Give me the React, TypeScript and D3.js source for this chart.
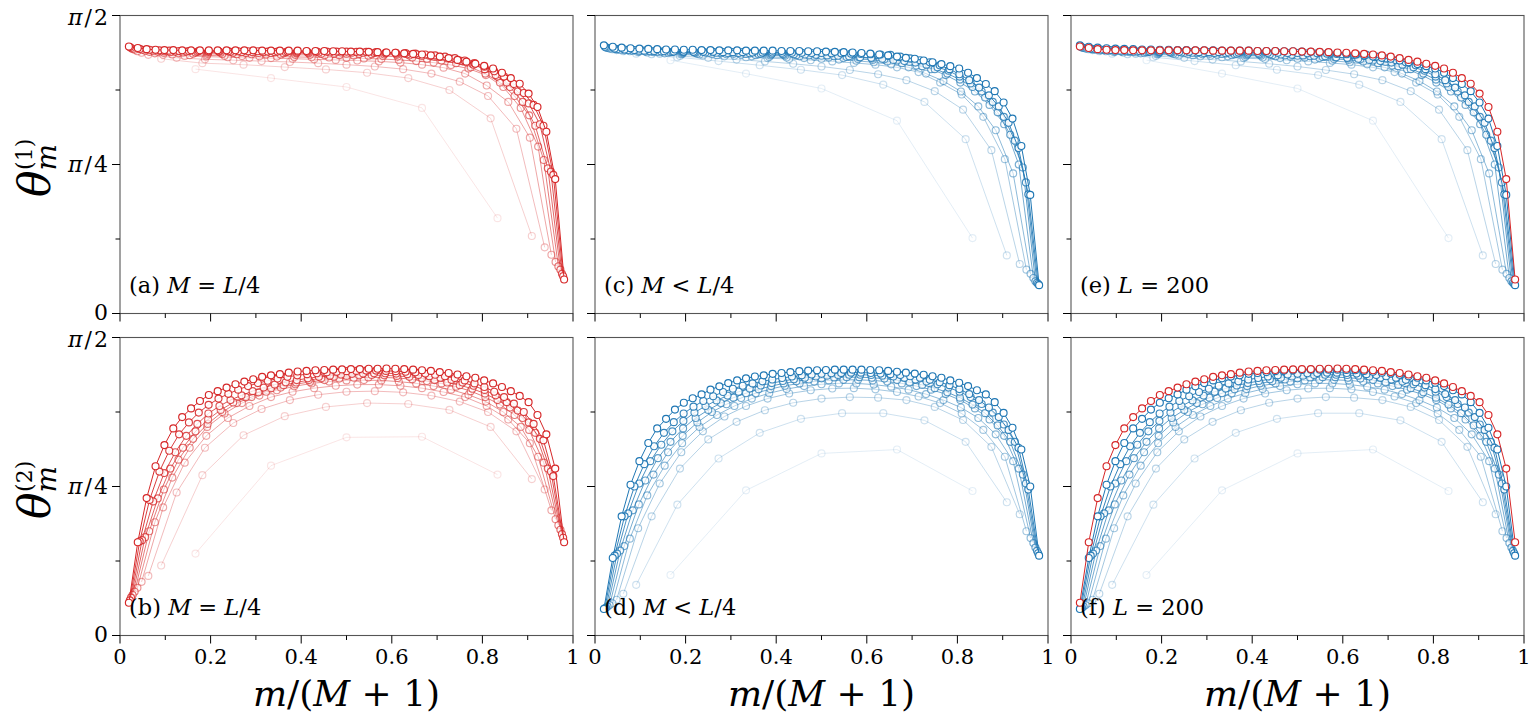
import * as d3 from "d3";

// every curve family uses M = 5, 10, ..., 50 and x = m / (M + 1), m = 1..M
const Ms = [5, 10, 15, 20, 25, 30, 35, 40, 45, 50];

// theta^(1), M = L/4   (values in units of pi/2)
const a5 = [0.82, 0.79, 0.76, 0.69, 0.32];
const a10 = [0.855, 0.84, 0.835, 0.827, 0.819, 0.808, 0.79, 0.75, 0.655, 0.26];
const a15 = [0.868, 0.858, 0.853, 0.85, 0.847, 0.844, 0.84, 0.835, 0.829, 0.82, 0.805, 0.778, 0.73, 0.62, 0.222];
const a20 = [0.875, 0.868, 0.864, 0.862, 0.86, 0.858, 0.857, 0.855, 0.853, 0.851, 0.849, 0.846, 0.842, 0.835, 0.825, 0.805, 0.765, 0.71, 0.59, 0.197];
const a25 = [0.88, 0.873, 0.869, 0.867, 0.866, 0.865, 0.864, 0.863, 0.862, 0.861, 0.86, 0.859, 0.858, 0.856, 0.854, 0.851, 0.847, 0.842, 0.834, 0.822, 0.8, 0.76, 0.69, 0.56, 0.173];
const a30 = [0.885, 0.878, 0.875, 0.873, 0.872, 0.871, 0.871, 0.87, 0.87, 0.869, 0.869, 0.868, 0.868, 0.867, 0.867, 0.866, 0.865, 0.864, 0.862, 0.859, 0.855, 0.849, 0.84, 0.826, 0.805, 0.775, 0.73, 0.665, 0.515, 0.158];
const a35 = [0.888, 0.882, 0.879, 0.877, 0.876, 0.876, 0.875, 0.875, 0.875, 0.874, 0.874, 0.874, 0.873, 0.873, 0.873, 0.872, 0.872, 0.872, 0.871, 0.87, 0.869, 0.868, 0.866, 0.864, 0.861, 0.856, 0.849, 0.838, 0.82, 0.795, 0.76, 0.71, 0.63, 0.487, 0.147];
const a40 = [0.891, 0.885, 0.882, 0.88, 0.879, 0.879, 0.878, 0.878, 0.878, 0.878, 0.877, 0.877, 0.877, 0.877, 0.877, 0.876, 0.876, 0.876, 0.876, 0.876, 0.875, 0.875, 0.874, 0.873, 0.872, 0.87, 0.868, 0.865, 0.861, 0.855, 0.847, 0.835, 0.82, 0.8, 0.775, 0.745, 0.705, 0.635, 0.476, 0.133];
const a45 = [0.894, 0.888, 0.885, 0.883, 0.882, 0.881, 0.881, 0.881, 0.88, 0.88, 0.88, 0.88, 0.88, 0.88, 0.879, 0.879, 0.879, 0.879, 0.879, 0.879, 0.879, 0.879, 0.879, 0.878, 0.878, 0.877, 0.876, 0.875, 0.874, 0.872, 0.869, 0.866, 0.862, 0.857, 0.849, 0.84, 0.828, 0.813, 0.795, 0.77, 0.74, 0.7, 0.63, 0.465, 0.125];
const a50 = [0.896, 0.891, 0.887, 0.885, 0.884, 0.884, 0.883, 0.883, 0.883, 0.883, 0.883, 0.883, 0.883, 0.883, 0.883, 0.882, 0.882, 0.882, 0.882, 0.882, 0.881, 0.881, 0.881, 0.88, 0.88, 0.879, 0.879, 0.878, 0.877, 0.876, 0.875, 0.873, 0.871, 0.869, 0.866, 0.862, 0.857, 0.851, 0.845, 0.838, 0.831, 0.822, 0.808, 0.79, 0.771, 0.738, 0.693, 0.61, 0.451, 0.114];

// theta^(2), M = L/4
const b5 = [0.275, 0.57, 0.665, 0.667, 0.54];
const b10 = [0.235, 0.538, 0.672, 0.736, 0.767, 0.78, 0.777, 0.757, 0.7, 0.525];
const b15 = [0.2, 0.48, 0.63, 0.713, 0.76, 0.79, 0.808, 0.818, 0.82, 0.816, 0.805, 0.785, 0.75, 0.685, 0.49];
const b20 = [0.18, 0.43, 0.58, 0.67, 0.73, 0.77, 0.8, 0.818, 0.83, 0.838, 0.842, 0.842, 0.838, 0.83, 0.817, 0.8, 0.77, 0.725, 0.645, 0.42];
const b25 = [0.16, 0.38, 0.53, 0.63, 0.7, 0.745, 0.78, 0.805, 0.823, 0.836, 0.846, 0.852, 0.856, 0.857, 0.856, 0.852, 0.846, 0.837, 0.825, 0.808, 0.785, 0.75, 0.7, 0.6, 0.39];
const b30 = [0.147, 0.35, 0.49, 0.59, 0.66, 0.71, 0.75, 0.78, 0.8, 0.818, 0.832, 0.843, 0.851, 0.857, 0.862, 0.865, 0.866, 0.866, 0.864, 0.86, 0.854, 0.846, 0.835, 0.82, 0.8, 0.775, 0.74, 0.69, 0.58, 0.37];
const b35 = [0.136, 0.33, 0.46, 0.56, 0.63, 0.685, 0.725, 0.757, 0.782, 0.8, 0.816, 0.83, 0.84, 0.849, 0.857, 0.863, 0.868, 0.871, 0.873, 0.874, 0.873, 0.871, 0.868, 0.863, 0.857, 0.849, 0.84, 0.828, 0.812, 0.79, 0.765, 0.73, 0.68, 0.56, 0.355];
const b40 = [0.127, 0.32, 0.45, 0.545, 0.615, 0.67, 0.71, 0.745, 0.77, 0.79, 0.806, 0.82, 0.832, 0.842, 0.85, 0.857, 0.863, 0.868, 0.872, 0.876, 0.878, 0.879, 0.88, 0.88, 0.879, 0.877, 0.874, 0.87, 0.865, 0.858, 0.849, 0.838, 0.824, 0.806, 0.783, 0.755, 0.715, 0.66, 0.55, 0.34];
const b45 = [0.118, 0.316, 0.455, 0.55, 0.62, 0.675, 0.715, 0.748, 0.774, 0.795, 0.811, 0.825, 0.837, 0.847, 0.855, 0.862, 0.868, 0.873, 0.877, 0.88, 0.883, 0.885, 0.887, 0.888, 0.889, 0.889, 0.888, 0.887, 0.885, 0.883, 0.879, 0.875, 0.87, 0.864, 0.856, 0.846, 0.834, 0.818, 0.8, 0.778, 0.75, 0.71, 0.655, 0.535, 0.328];
const b50 = [0.11, 0.313, 0.461, 0.568, 0.639, 0.695, 0.733, 0.762, 0.787, 0.807, 0.82, 0.832, 0.843, 0.852, 0.86, 0.868, 0.873, 0.877, 0.882, 0.886, 0.888, 0.89, 0.891, 0.892, 0.893, 0.894, 0.894, 0.895, 0.895, 0.896, 0.895, 0.894, 0.892, 0.89, 0.888, 0.884, 0.881, 0.876, 0.87, 0.865, 0.856, 0.846, 0.834, 0.82, 0.804, 0.783, 0.74, 0.675, 0.56, 0.313];

// theta^(1), M < L/4 (also the blue curves of L = 200)
const c5 = [0.85, 0.805, 0.755, 0.647, 0.253];
const c10 = [0.872, 0.86, 0.847, 0.833, 0.818, 0.8, 0.768, 0.71, 0.585, 0.195];
const c15 = [0.88, 0.87, 0.864, 0.858, 0.852, 0.846, 0.838, 0.829, 0.817, 0.803, 0.783, 0.746, 0.684, 0.548, 0.166];
const c20 = [0.884, 0.877, 0.872, 0.869, 0.866, 0.863, 0.86, 0.857, 0.854, 0.85, 0.846, 0.841, 0.835, 0.826, 0.81, 0.775, 0.735, 0.66, 0.518, 0.147];
const c25 = [0.887, 0.88, 0.876, 0.873, 0.871, 0.869, 0.867, 0.865, 0.863, 0.861, 0.859, 0.857, 0.855, 0.852, 0.848, 0.843, 0.836, 0.826, 0.805, 0.78, 0.745, 0.695, 0.615, 0.47, 0.133];
const c30 = [0.889, 0.883, 0.879, 0.877, 0.875, 0.873, 0.872, 0.871, 0.87, 0.868, 0.867, 0.866, 0.865, 0.863, 0.862, 0.859, 0.857, 0.854, 0.851, 0.846, 0.84, 0.832, 0.82, 0.8, 0.775, 0.745, 0.7, 0.635, 0.5, 0.119];
const c35 = [0.891, 0.885, 0.882, 0.879, 0.878, 0.877, 0.876, 0.875, 0.874, 0.873, 0.872, 0.871, 0.87, 0.869, 0.868, 0.867, 0.866, 0.865, 0.863, 0.861, 0.859, 0.856, 0.853, 0.849, 0.844, 0.83, 0.82, 0.805, 0.785, 0.76, 0.725, 0.675, 0.6, 0.49, 0.108];
const c40 = [0.893, 0.887, 0.884, 0.882, 0.88, 0.879, 0.878, 0.877, 0.876, 0.876, 0.875, 0.874, 0.874, 0.873, 0.872, 0.872, 0.871, 0.87, 0.869, 0.868, 0.866, 0.865, 0.863, 0.86, 0.858, 0.855, 0.851, 0.847, 0.842, 0.835, 0.826, 0.815, 0.795, 0.772, 0.745, 0.71, 0.66, 0.58, 0.44, 0.103];
const c45 = [0.895, 0.889, 0.886, 0.884, 0.882, 0.881, 0.88, 0.879, 0.879, 0.878, 0.878, 0.878, 0.877, 0.877, 0.877, 0.876, 0.876, 0.876, 0.875, 0.875, 0.875, 0.874, 0.874, 0.873, 0.873, 0.872, 0.871, 0.87, 0.869, 0.868, 0.862, 0.856, 0.85, 0.843, 0.833, 0.82, 0.803, 0.783, 0.758, 0.732, 0.695, 0.64, 0.555, 0.4, 0.099];
const c50 = [0.9, 0.895, 0.892, 0.89, 0.889, 0.888, 0.887, 0.886, 0.886, 0.885, 0.885, 0.884, 0.884, 0.883, 0.883, 0.883, 0.882, 0.882, 0.882, 0.882, 0.881, 0.881, 0.881, 0.88, 0.88, 0.879, 0.878, 0.877, 0.876, 0.874, 0.872, 0.869, 0.866, 0.862, 0.858, 0.855, 0.849, 0.843, 0.837, 0.83, 0.822, 0.808, 0.79, 0.77, 0.746, 0.708, 0.654, 0.562, 0.398, 0.095];

// theta^(2), M < L/4 (also the blue curves of L = 200)
const d5 = [0.203, 0.487, 0.611, 0.624, 0.485];
const d10 = [0.17, 0.439, 0.594, 0.68, 0.727, 0.746, 0.746, 0.722, 0.65, 0.447];
const d15 = [0.14, 0.4, 0.56, 0.658, 0.717, 0.756, 0.781, 0.795, 0.8, 0.798, 0.79, 0.767, 0.723, 0.633, 0.407];
const d20 = [0.12, 0.36, 0.51, 0.615, 0.685, 0.735, 0.77, 0.795, 0.812, 0.823, 0.829, 0.83, 0.826, 0.817, 0.802, 0.78, 0.745, 0.69, 0.6, 0.35];
const d25 = [0.108, 0.325, 0.47, 0.57, 0.645, 0.7, 0.74, 0.77, 0.795, 0.813, 0.827, 0.837, 0.843, 0.846, 0.846, 0.842, 0.835, 0.825, 0.81, 0.79, 0.765, 0.73, 0.675, 0.585, 0.327];
const d30 = [0.102, 0.3, 0.44, 0.54, 0.615, 0.67, 0.715, 0.75, 0.776, 0.797, 0.813, 0.827, 0.838, 0.846, 0.852, 0.856, 0.858, 0.858, 0.856, 0.852, 0.846, 0.837, 0.825, 0.81, 0.79, 0.762, 0.725, 0.67, 0.56, 0.31];
const d35 = [0.097, 0.285, 0.42, 0.52, 0.595, 0.65, 0.695, 0.73, 0.757, 0.78, 0.798, 0.813, 0.826, 0.837, 0.846, 0.853, 0.859, 0.863, 0.866, 0.867, 0.867, 0.865, 0.862, 0.857, 0.85, 0.841, 0.83, 0.816, 0.798, 0.775, 0.746, 0.705, 0.65, 0.54, 0.295];
const d40 = [0.093, 0.275, 0.41, 0.51, 0.585, 0.64, 0.685, 0.72, 0.748, 0.77, 0.789, 0.805, 0.818, 0.829, 0.839, 0.847, 0.854, 0.86, 0.865, 0.869, 0.872, 0.874, 0.875, 0.875, 0.874, 0.872, 0.869, 0.865, 0.859, 0.852, 0.843, 0.832, 0.818, 0.8, 0.777, 0.748, 0.708, 0.65, 0.51, 0.284];
const d45 = [0.091, 0.268, 0.4, 0.5, 0.575, 0.635, 0.68, 0.716, 0.745, 0.768, 0.787, 0.803, 0.817, 0.828, 0.838, 0.846, 0.853, 0.859, 0.864, 0.869, 0.873, 0.876, 0.878, 0.88, 0.881, 0.882, 0.882, 0.881, 0.879, 0.877, 0.874, 0.87, 0.865, 0.858, 0.85, 0.84, 0.827, 0.81, 0.79, 0.765, 0.733, 0.69, 0.63, 0.49, 0.276];
const d50 = [0.089, 0.26, 0.4, 0.506, 0.585, 0.646, 0.695, 0.727, 0.758, 0.781, 0.796, 0.809, 0.825, 0.836, 0.847, 0.856, 0.863, 0.869, 0.873, 0.878, 0.881, 0.884, 0.887, 0.889, 0.89, 0.891, 0.892, 0.892, 0.892, 0.892, 0.891, 0.89, 0.888, 0.885, 0.882, 0.879, 0.875, 0.87, 0.865, 0.856, 0.848, 0.837, 0.823, 0.809, 0.783, 0.747, 0.697, 0.624, 0.5, 0.268];

const famA = [a5, a10, a15, a20, a25, a30, a35, a40, a45, a50];
const famB = [b5, b10, b15, b20, b25, b30, b35, b40, b45, b50];
const famC = [c5, c10, c15, c20, c25, c30, c35, c40, c45, c50];
const famD = [d5, d10, d15, d20, d25, d30, d35, d40, d45, d50];

const xMajor = [0, 0.2, 0.4, 0.6, 0.8, 1];
const xMinor = [0.1, 0.3, 0.5, 0.7, 0.9];
const xTickText = ["0", "0.2", "0.4", "0.6", "0.8", "1"];
const yMajor = [0, 0.5, 1];
const yMinor = [0.25, 0.75];
const yTickDen = ["", "4", "2"]; // 0, pi/4, pi/2

const RED = "#d62728";
const BLUE = "#1f77b4";
const FONT = "DejaVu Serif";

const W = 453;
const H = 298;
const colX = [120, 595, 1071];
const rowY = [15.5, 337.5];

type PanelProps = {
  x0: number;
  y0: number;
  fam: number[][];
  color: string;
  top?: number[];
  tag: string;
  rel: string;
  lhs: string;
  rhs: string;
  bottom: boolean;
  left: boolean;
};

function Panel({ x0, y0, fam, color, top, tag, lhs, rel, rhs, bottom, left }: PanelProps) {
  const x = d3.scaleLinear().domain([0, 1]).range([0, W]);
  const y = d3.scaleLinear().domain([0, 1]).range([H, 0]);
  const line = d3
    .line<[number, number]>()
    .x((d) => x(d[0]))
    .y((d) => y(d[1]));
  const alpha = d3.scaleLinear().domain([Ms[0], Ms[Ms.length - 1]]).range([0.12, 1]);

  const pts = (vals: number[]) =>
    vals.map((v, i) => [(i + 1) / (vals.length + 1), v] as [number, number]);

  const curve = (vals: number[], c: string, a: number, key: string) => {
    const p = pts(vals);
    return (
      <g key={key}>
        <path d={line(p) || undefined} fill="none" stroke={c} strokeOpacity={a} strokeWidth={1} />
        {p.map((d, i) => (
          <circle
            key={i}
            cx={x(d[0])}
            cy={y(d[1])}
            r={3.5}
            fill="white"
            fillOpacity={a}
            stroke={c}
            strokeOpacity={a}
            strokeWidth={1.15}
          />
        ))}
      </g>
    );
  };

  return (
    <g transform={`translate(${x0},${y0})`}>
      {fam.map((vals, i) => curve(vals, color, alpha(Ms[i]), `s${i}`))}
      {top && curve(top, RED, 1, "top")}
      <rect x={0} y={0} width={W} height={H} fill="none" stroke="#555" strokeWidth={1.1} />
      {xMajor.map((t) => (
        <line key={`xM${t}`} x1={x(t)} x2={x(t)} y1={H} y2={H + 8} stroke="black" strokeWidth={1} />
      ))}
      {xMinor.map((t) => (
        <line key={`xm${t}`} x1={x(t)} x2={x(t)} y1={H} y2={H + 4.5} stroke="black" strokeWidth={1} />
      ))}
      {yMajor.map((t) => (
        <line key={`yM${t}`} x1={-8} x2={0} y1={y(t)} y2={y(t)} stroke="black" strokeWidth={1} />
      ))}
      {yMinor.map((t) => (
        <line key={`ym${t}`} x1={-4.5} x2={0} y1={y(t)} y2={y(t)} stroke="black" strokeWidth={1} />
      ))}
      {bottom &&
        xMajor.map((t, i) => (
          <text key={`xl${t}`} x={x(t)} y={H + 28} textAnchor="middle" fontFamily={FONT} fontSize={21}>
            {xTickText[i]}
          </text>
        ))}
      {left &&
        yMajor.map((t, i) => (
          <text
            key={`yl${t}`}
            x={-12}
            y={y(t)}
            dy={t === 0 ? "0.28em" : t === 1 ? "0.42em" : "0.36em"}
            textAnchor="end"
            fontFamily={FONT}
            fontSize={22}
          >
            {yTickDen[i] === "" ? (
              "0"
            ) : (
              <>
                <tspan fontStyle="italic">π</tspan>
                <tspan dx={2}>/</tspan>
                <tspan dx={2}>{yTickDen[i]}</tspan>
              </>
            )}
          </text>
        ))}
      <text x={9} y={H - 21} fontFamily={FONT} fontSize={22.5}>
        {`(${tag}) `}
        <tspan fontStyle="italic">{lhs}</tspan>
        {` ${rel} `}
        {rhs === "L" ? (
          <>
            <tspan fontStyle="italic">L</tspan>
            {"/4"}
          </>
        ) : (
          rhs
        )}
      </text>
    </g>
  );
}

function YTitle({ yStart, sup }: { yStart: number; sup: string }) {
  return (
    <text transform={`translate(50,${yStart}) rotate(-90)`} fontFamily={FONT}>
      <tspan fontSize={44} fontStyle="italic">
        θ
      </tspan>
      <tspan fontSize={28} fontStyle="italic" dy={6}>
        m
      </tspan>
      <tspan fontSize={22} dx={-26} dy={-24}>
        {`(${sup})`}
      </tspan>
    </text>
  );
}

function XTitle({ cx }: { cx: number }) {
  return (
    <text x={cx} y={706} textAnchor="middle" fontFamily={FONT} fontSize={36}>
      <tspan fontStyle="italic">m</tspan>
      {"/("}
      <tspan fontStyle="italic">M</tspan>
      {" + 1)"}
    </text>
  );
}

export default function App() {
  return (
    <svg
      width={1538}
      height={724}
      style={{ position: "absolute", left: 0, top: 0, background: "white" }}
    >
      <Panel x0={colX[0]} y0={rowY[0]} fam={famA} color={RED} tag="a" lhs="M" rel="=" rhs="L" bottom={false} left={true} />
      <Panel x0={colX[0]} y0={rowY[1]} fam={famB} color={RED} tag="b" lhs="M" rel="=" rhs="L" bottom={true} left={true} />
      <Panel x0={colX[1]} y0={rowY[0]} fam={famC} color={BLUE} tag="c" lhs="M" rel="<" rhs="L" bottom={false} left={false} />
      <Panel x0={colX[1]} y0={rowY[1]} fam={famD} color={BLUE} tag="d" lhs="M" rel="<" rhs="L" bottom={true} left={false} />
      <Panel x0={colX[2]} y0={rowY[0]} fam={famC} color={BLUE} top={a50} tag="e" lhs="L" rel="=" rhs="200" bottom={false} left={false} />
      <Panel x0={colX[2]} y0={rowY[1]} fam={famD} color={BLUE} top={b50} tag="f" lhs="L" rel="=" rhs="200" bottom={true} left={false} />
      <YTitle yStart={197} sup="1" />
      <YTitle yStart={519} sup="2" />
      {colX.map((c) => (
        <XTitle key={c} cx={c + W / 2} />
      ))}
    </svg>
  );
}
